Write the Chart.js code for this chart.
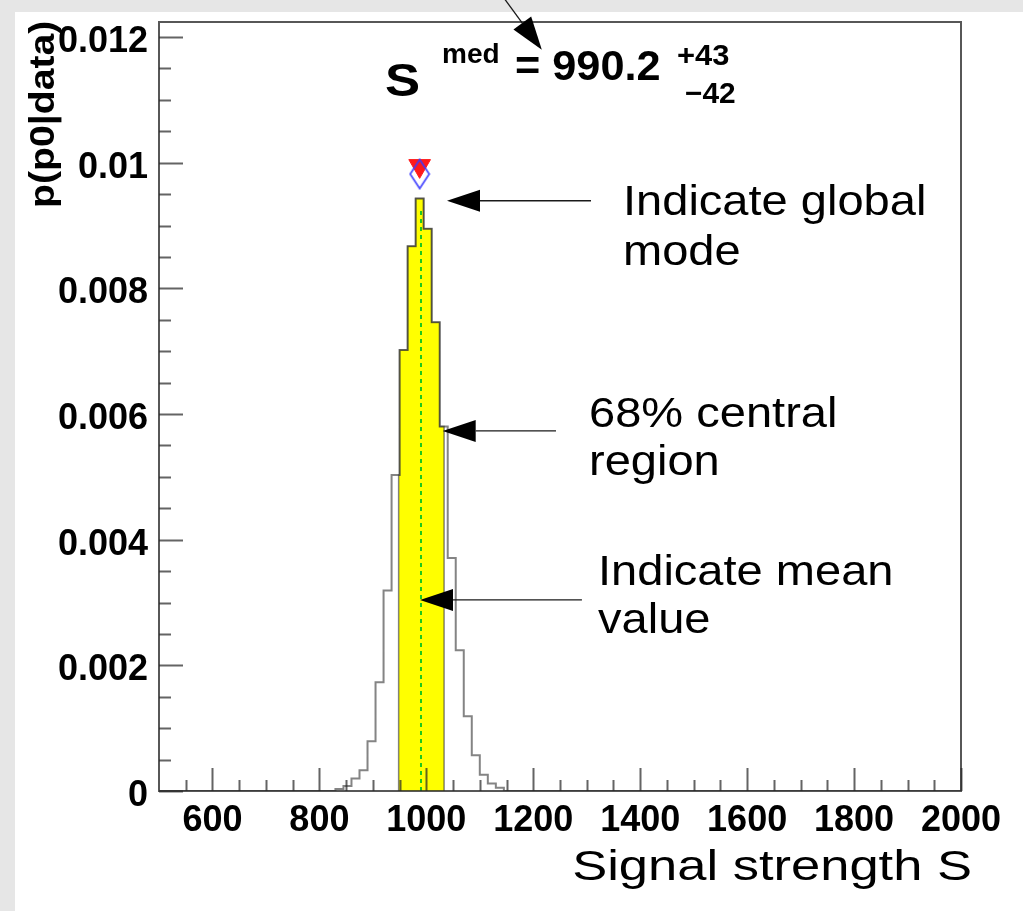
<!DOCTYPE html>
<html>
<head>
<meta charset="utf-8">
<script src="https://cdn.jsdelivr.net/npm/chart.js@4.4.1/dist/chart.umd.min.js"></script>
<style>
  html, body { margin: 0; padding: 0; background: #e6e6e6; }
  #c { position: absolute; left: 0; top: 0; }
</style>
</head>
<body>
<canvas id="c" width="1023" height="911"></canvas>
<script>
// Posterior density of the signal strength S in 15-unit bins (non-empty bins only)
const binEdges = [830, 845, 860, 875, 890, 905, 920, 935, 950, 965, 980, 995,
                  1010, 1025, 1040, 1055, 1070, 1085, 1100, 1115, 1130, 1145];
const density  = [0.00003, 0.00008, 0.00020, 0.00033, 0.00079, 0.00173, 0.00319,
                  0.00503, 0.00702, 0.00867, 0.00943, 0.00895, 0.00746, 0.00580,
                  0.00371, 0.00224, 0.00119, 0.00057, 0.00026, 0.00012, 0.00005];

// Summary of the posterior
const medianS = 990.2;
const errUp = 43;
const errDown = 42;
const meanS = 990;
const modeS = 987.5;
const modeMarkY = 0.00995;      // global mode marker
const modeMarkY2 = 0.00982;     // marginal mode marker

// Axes
const xRange = [500, 2000];
const yRange = [0, 0.01224];
const xTickValues = [600, 800, 1000, 1200, 1400, 1600, 1800, 2000];
const yTickValues = [0, 0.002, 0.004, 0.006, 0.008, 0.01, 0.012];
const yTickLabels = ['0', '0.002', '0.004', '0.006', '0.008', '0.01', '0.012'];

const FONT = "'Liberation Sans', Arial, Helvetica, sans-serif";

// histogram outline as a step line
function outlinePoints() {
  const pts = [{ x: xRange[0], y: 0 }];
  for (let i = 0; i < density.length; i++) pts.push({ x: binEdges[i], y: density[i] });
  pts.push({ x: binEdges[binEdges.length - 1], y: 0 });
  pts.push({ x: xRange[1], y: 0 });
  return pts;
}

// part of the histogram inside [lo, hi]
function bandPoints(lo, hi) {
  const pts = [{ x: lo, y: 0 }];
  for (let i = 0; i < density.length; i++) {
    const a = binEdges[i], b = binEdges[i + 1];
    if (b <= lo || a >= hi) continue;
    pts.push({ x: Math.max(a, lo), y: density[i] });
  }
  pts.push({ x: hi, y: 0 });
  return pts;
}

function densityAt(v) {
  for (let i = 0; i < density.length; i++) {
    if (v >= binEdges[i] && v < binEdges[i + 1]) return density[i];
  }
  return 0;
}

// hollow diamond used as point style for the marginal mode
function diamondStyle() {
  const cv = document.createElement('canvas');
  cv.width = 22; cv.height = 32;
  const g = cv.getContext('2d');
  g.strokeStyle = 'rgba(60,60,255,0.9)';
  g.lineWidth = 1.8;
  g.beginPath();
  g.moveTo(11, 1.5); g.lineTo(20.5, 16); g.lineTo(11, 30.5); g.lineTo(1.5, 16);
  g.closePath();
  g.stroke();
  return cv;
}

function stretchedText(c, str, x, y, font, sx, align) {
  c.save();
  c.font = font;
  const w = c.measureText(str).width * sx;
  const left = align === 'right' ? x - w : x;
  c.translate(left, y);
  c.scale(sx, 1);
  c.textAlign = 'left';
  c.textBaseline = 'alphabetic';
  c.fillText(str, 0, 0);
  c.restore();
}

function arrow(c, x0, y0, x1, y1) {
  const dx = x1 - x0, dy = y1 - y0, L = Math.hypot(dx, dy);
  const ux = dx / L, uy = dy / L, hl = 33, hw = 11;
  const bx = x1 - ux * hl, by = y1 - uy * hl;
  c.beginPath(); c.moveTo(x0, y0); c.lineTo(bx, by); c.stroke();
  c.beginPath();
  c.moveTo(x1, y1);
  c.lineTo(bx - uy * hw, by + ux * hw);
  c.lineTo(bx + uy * hw, by - ux * hw);
  c.closePath(); c.fill();
}

const pagePlugin = {
  id: 'page',
  beforeDraw(chart) {
    const c = chart.ctx;
    c.save();
    c.fillStyle = '#e6e6e6';
    c.fillRect(0, 0, chart.width, chart.height);
    c.fillStyle = '#ffffff';
    c.fillRect(15, 12, chart.width - 15, chart.height - 12);
    c.restore();
  }
};

// frame and inward ROOT-style ticks
const framePlugin = {
  id: 'frame',
  afterDatasetsDraw(chart) {
    const c = chart.ctx, a = chart.chartArea;
    const xs = chart.scales.x, ys = chart.scales.y;
    c.save();
    c.strokeStyle = 'rgba(40,40,40,0.72)';
    c.lineWidth = 2;
    c.beginPath();
    for (let v = xRange[0] + 50; v <= xRange[1]; v += 50) {
      const px = Math.round(xs.getPixelForValue(v)) + 0.5;
      const len = xTickValues.includes(v) ? 23 : 11;
      c.moveTo(px, a.bottom); c.lineTo(px, a.bottom - len);
    }
    for (let k = 0; k <= 24; k++) {
      const v = k * 0.0005;
      const py = Math.round(ys.getPixelForValue(v)) + 0.5;
      const len = k % 4 === 0 ? 24 : 12;
      c.moveTo(a.left, py); c.lineTo(a.left + len, py);
    }
    c.stroke();
    c.strokeStyle = 'rgba(40,40,40,0.78)';
    c.lineWidth = 2;
    c.strokeRect(a.left, a.top, a.right - a.left, a.bottom - a.top);
    c.restore();
  }
};

const notesPlugin = {
  id: 'notes',
  afterDraw(chart) {
    const c = chart.ctx, xs = chart.scales.x, ys = chart.scales.y;
    const P = (x, y) => [xs.getPixelForValue(x), ys.getPixelForValue(y)];
    c.save();
    c.fillStyle = '#000';

    // y-axis title, rotated
    c.save();
    c.font = 'bold 35px ' + FONT;
    c.translate(54, 208);
    c.rotate(-Math.PI / 2);
    c.scale(1.12, 1);
    c.textAlign = 'left';
    c.textBaseline = 'alphabetic';
    c.fillText('p(p0|data)', 0, 0);
    c.restore();

    // x-axis title
    stretchedText(c, 'Signal strength S', 972, 880, '42px ' + FONT, 1.25, 'right');

    // median with its interval
    stretchedText(c, 'S', 385, 96, 'bold 47px ' + FONT, 1.12);
    stretchedText(c, 'med', 442, 63, 'bold 28px ' + FONT, 1.0);
    stretchedText(c, '= ' + medianS.toFixed(1), 515, 80, 'bold 42px ' + FONT, 1.03);
    stretchedText(c, '+' + errUp, 677, 65, 'bold 30px ' + FONT, 1.03);
    stretchedText(c, '\u2212' + errDown, 685, 103, 'bold 29px ' + FONT, 1.03);

    // callouts
    const f = '42px ' + FONT, sx = 1.12;
    stretchedText(c, 'Indicate global', 623, 215, f, sx);
    stretchedText(c, 'mode', 623, 265, f, sx);
    stretchedText(c, '68% central', 589, 427, f, sx);
    stretchedText(c, 'region', 589, 475, f, sx);
    stretchedText(c, 'Indicate mean', 598, 585, f, sx);
    stretchedText(c, 'value', 598, 633, f, sx);

    c.strokeStyle = '#1a1a1a';
    c.fillStyle = '#000';
    c.lineWidth = 1.3;
    arrow(c, ...P(1147, 0.0126), ...P(1216, 0.0118));
    arrow(c, ...P(1308, 0.009395), ...P(1038.6, 0.009395));
    arrow(c, ...P(1242.5, 0.005732), ...P(1030.6, 0.005732));
    arrow(c, ...P(1291, 0.003041), ...P(988.2, 0.003041));
    c.restore();
  }
};

new Chart(document.getElementById('c'), {
  type: 'line',
  data: {
    datasets: [
      {
        label: 'global mode',
        data: [{ x: modeS, y: modeMarkY }],
        showLine: false,
        pointStyle: 'triangle',
        rotation: 180,
        pointRadius: 12.5,
        pointBackgroundColor: '#ff1a1a',
        pointBorderColor: '#ff1a1a',
        pointBorderWidth: 1,
        order: 1
      },
      {
        label: 'marginal mode',
        data: [{ x: modeS, y: modeMarkY2 }],
        showLine: false,
        pointStyle: diamondStyle(),
        pointRadius: 10,
        order: 0
      },
      {
        label: 'mean',
        data: [{ x: meanS, y: 0 }, { x: meanS, y: densityAt(meanS) * 0.985 }],
        borderColor: '#1ec81e',
        borderWidth: 2,
        borderDash: [4, 4],
        pointRadius: 0,
        fill: false,
        order: 2
      },
      {
        label: 'posterior',
        data: outlinePoints(),
        stepped: true,
        borderColor: 'rgba(50,50,50,0.6)',
        borderWidth: 2,
        pointRadius: 0,
        fill: false,
        order: 3
      },
      {
        label: '68% central interval',
        data: bandPoints(medianS - errDown, medianS + errUp),
        stepped: true,
        borderColor: 'rgba(50,50,50,0.6)',
        borderWidth: 1.5,
        backgroundColor: '#ffff00',
        pointRadius: 0,
        fill: 'origin',
        order: 4
      }
    ]
  },
  options: {
    responsive: false,
    animation: false,
    devicePixelRatio: 1,
    events: [],
    layout: { padding: { top: 22, right: 62, left: 0, bottom: 0 } },
    plugins: { legend: { display: false }, tooltip: { enabled: false } },
    scales: {
      x: {
        type: 'linear',
        min: xRange[0], max: xRange[1],
        grid: { display: false, drawTicks: false },
        border: { display: false },
        afterBuildTicks: s => { s.ticks = xTickValues.map(v => ({ value: v })); },
        afterFit: s => { s.height = 120; s.paddingLeft = 0; s.paddingRight = 0; },
        ticks: {
          autoSkip: false, maxRotation: 0, padding: 8, color: '#000',
          font: { family: FONT, weight: 'bold', size: 36 },
          callback: v => String(v)
        }
      },
      y: {
        type: 'linear',
        min: yRange[0], max: yRange[1],
        grid: { display: false, drawTicks: false },
        border: { display: false },
        afterBuildTicks: s => { s.ticks = yTickValues.map(v => ({ value: v })); },
        afterFit: s => { s.width = 159; s.paddingTop = 0; s.paddingBottom = 0; },
        ticks: {
          autoSkip: false, padding: 11, color: '#000', labelOffset: 5,
          font: { family: FONT, weight: 'bold', size: 36 },
          callback: (v, i) => yTickLabels[i]
        }
      }
    }
  },
  plugins: [pagePlugin, framePlugin, notesPlugin]
});
</script>
</body>
</html>
